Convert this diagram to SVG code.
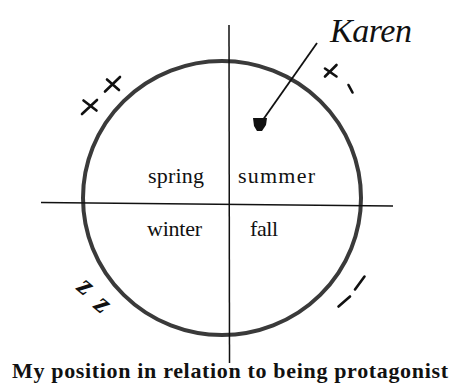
<svg xmlns="http://www.w3.org/2000/svg" width="455" height="390" viewBox="0 0 455 390">
  <style>
    .axis { stroke: #111; stroke-width: 1.5; fill: none; }
    .ring { stroke: #3a3a3a; stroke-width: 4; fill: none; }
    .mark { stroke: #111; stroke-width: 2.6; stroke-linecap: round; fill: none; }
    .season { font-family: "Liberation Serif", "Times New Roman", serif; font-size: 22px; fill: #111; }
    .hand { font-family: "Liberation Serif", "Times New Roman", serif; font-style: italic; fill: #111; }
    .caption { font-family: "Liberation Serif", "Times New Roman", serif; font-weight: bold; font-size: 22px; fill: #111; }
  </style>
  <defs>
    <marker id="blob" markerUnits="userSpaceOnUse" markerWidth="20" markerHeight="20" refX="10" refY="10" orient="0" viewBox="0 0 20 20">
      <path d="M3,4 L17,4 L16,11 L12,17 L7,17 L4,12 Z" fill="#111"/>
    </marker>
  </defs>
  <rect width="455" height="390" fill="#fff"/>

  <g id="circle">
    <ellipse class="ring" cx="222" cy="198" rx="139" ry="137"/>
  </g>

  <g id="connectors">
    <line class="axis" x1="41" y1="202.5" x2="393" y2="206"/>
    <line class="axis" x1="229" y1="25" x2="229.5" y2="363"/>
    <line x1="317" y1="43" x2="260" y2="124" stroke="#111" stroke-width="1.8" marker-end="url(#blob)"/>
  </g>

  <g id="spring"><text class="season" x="148" y="183" textLength="56">spring</text></g>
  <g id="summer"><text class="season" x="238" y="183" textLength="77">summer</text></g>
  <g id="winter"><text class="season" x="147" y="236" textLength="55">winter</text></g>
  <g id="fall"><text class="season" x="250" y="236" textLength="28">fall</text></g>

  <g id="karen">
    <text class="hand" x="330" y="42" font-size="34" textLength="82">Karen</text>
  </g>

  <g id="plus-plus">
    <path class="mark" d="M82,114 L97,100 M83.5,100.5 L96.5,110.5"/>
    <path class="mark" d="M105,91.5 L120,77 M107,79.5 L119,90"/>
  </g>

  <g id="plus-tick">
    <path class="mark" d="M325,76.5 L336.5,65 M325,68.5 L336.5,76.5"/>
    <path class="mark" d="M348.5,85 L352.5,92.5"/>
  </g>

  <g id="minus-minus">
    <path class="mark" d="M338.5,306.5 L350,296.5"/>
    <path class="mark" d="M355,289.5 L364.5,276.5"/>
  </g>

  <g id="zz">
    <text class="hand" font-size="30" font-weight="bold" text-anchor="middle" dominant-baseline="central" transform="translate(87,285) rotate(40)">z</text>
    <text class="hand" font-size="30" font-weight="bold" text-anchor="middle" dominant-baseline="central" transform="translate(104,303) rotate(40)">z</text>
  </g>

  <g id="caption">
    <text class="caption" x="12" y="378" textLength="436">My position in relation to being protagonist</text>
  </g>
</svg>
